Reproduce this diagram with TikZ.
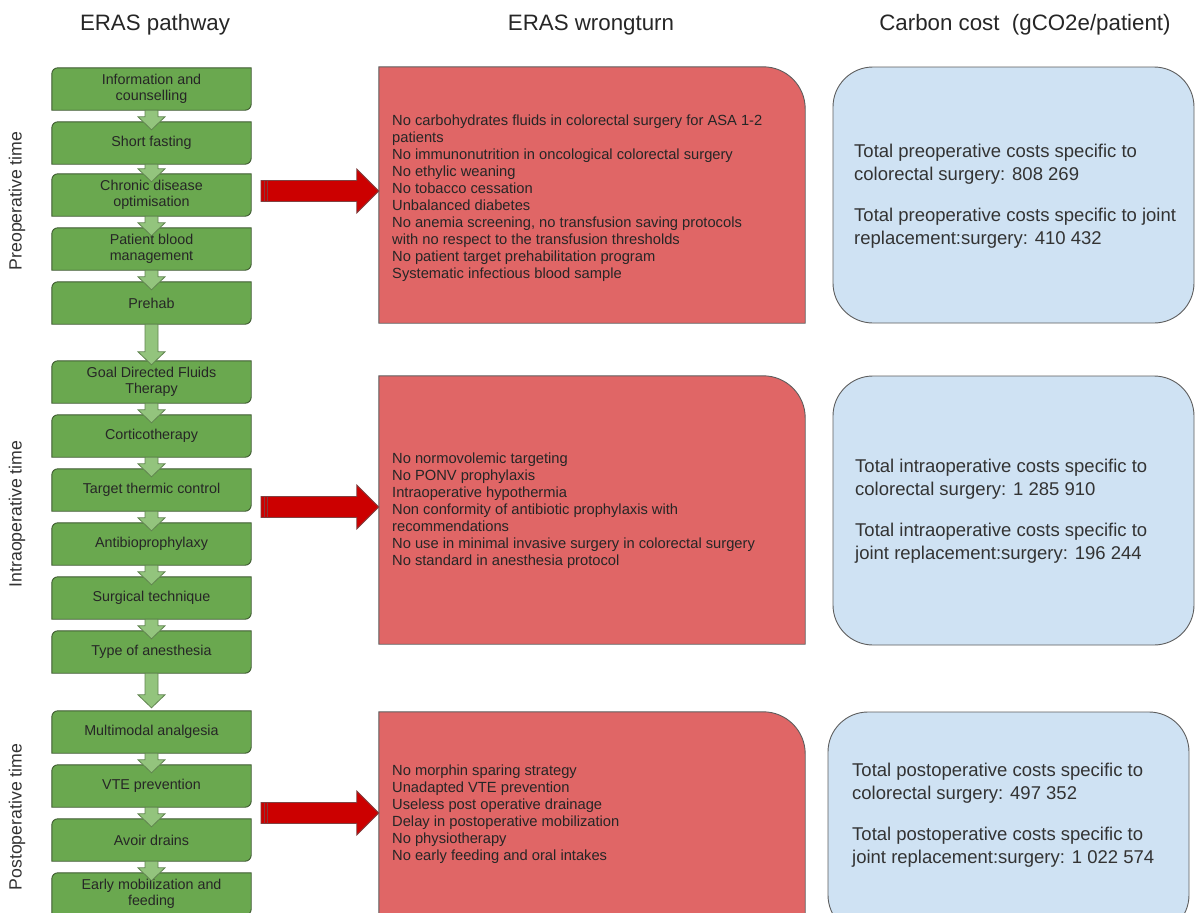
\documentclass[tikz,border=0pt]{standalone}
\usepackage{fontspec}
\setmainfont{Liberation Sans}
\usetikzlibrary{calc,backgrounds}

\definecolor{stepgreen}{HTML}{6AA84F}
\definecolor{steplight}{HTML}{93C47D}
\definecolor{stepedge}{HTML}{3E5A30}
\definecolor{wrongred}{HTML}{E06666}
\definecolor{arrowred}{HTML}{CC0000}
\definecolor{costblue}{HTML}{CFE2F3}
\definecolor{edgegray}{HTML}{5E5E5E}

% green step: rounded top left and bottom right corners
\newcommand{\stepframe}[1]{%
\begin{pgfonlayer}{background}
\filldraw[stepframe] ([yshift=-6pt]#1.north west) arc[start angle=180,end angle=90,radius=6pt] -- (#1.north east)
  -- ([yshift=6pt]#1.south east) arc[start angle=0,end angle=-90,radius=6pt] -- (#1.south west) -- cycle;
\end{pgfonlayer}}
% red box: only the top right corner is rounded
\newcommand{\wrongframe}[1]{%
\begin{pgfonlayer}{background}
\filldraw[wrongframe] (#1.south west) -- (#1.north west) -- ([xshift=-42pt]#1.north east)
  arc[start angle=90,end angle=0,radius=42pt] -- (#1.south east) -- cycle;
\end{pgfonlayer}}
% block arrow between two steps, #1 = how far the tip goes below the top of the lower step
\newcommand{\stepdown}[3][8]{%
\filldraw[stepdown] ($(#2.south)+(-6.5,0)$) -- ($(#3.north)+(-6.5,{#1-13})$) -- ($(#3.north)+(-13.5,{#1-13})$)
  -- ($(#3.north)+(0,#1)$) -- ($(#3.north)+(13.5,{#1-13})$) -- ($(#3.north)+(6.5,{#1-13})$) -- ($(#2.south)+(6.5,0)$) -- cycle;}
% striped red arrow from #1 to #2
\newcommand{\wrongarrow}[2]{%
\filldraw[wrongarrow] ($(#1)+(0,-10.5)$) -- ($(#2)+(-22,-10.5)$) -- ($(#2)+(-22,-22)$) -- (#2)
  -- ($(#2)+(-22,22)$) -- ($(#2)+(-22,10.5)$) -- ($(#1)+(0,10.5)$) -- cycle;
\draw[wrongstripe] ($(#1)+(3,-10.5)$) -- ($(#1)+(3,10.5)$) ($(#1)+(6.5,-10.5)$) -- ($(#1)+(6.5,10.5)$);}

\begin{document}
\begin{tikzpicture}[x=1pt,y=-1pt,
    header/.style={anchor=base,inner sep=0pt,text=black!85,font=\fontsize{22.3}{26}\selectfont},
    phase/.style={rotate=90,inner sep=0pt,text=black!80,font=\fontsize{17.7}{20}\selectfont},
    stepbox/.style={minimum width=199pt,minimum height=42pt,inner sep=0pt,align=center,text=black!85,font=\fontsize{14.3}{16}\selectfont},
    stepframe/.style={fill=stepgreen,draw=stepedge,line width=0.9pt},
    stepdown/.style={fill=steplight,draw=stepedge!60!steplight,line width=0.8pt},
    wrongbox/.style={minimum width=426pt,inner sep=0pt},
    wrongframe/.style={fill=wrongred,draw=edgegray,line width=0.9pt},
    wrongtext/.style={anchor=west,align=left,inner sep=0pt,text=black!85,font=\fontsize{14.7}{17}\selectfont},
    wrongarrow/.style={fill=arrowred,draw=edgegray!70!arrowred,line width=0.8pt},
    wrongstripe/.style={draw=edgegray!60!arrowred,line width=0.8pt},
    costbox/.style={fill=costblue,draw=edgegray,line width=0.9pt,rounded corners=40pt,minimum width=361pt,inner sep=0pt},
    costtext/.style={anchor=west,align=left,inner sep=0pt,text=black!80,font=\fontsize{18.5}{23}\selectfont}]
\begin{pgfonlayer}{background}
\fill[white] (0,0) rectangle (1195,913);
\end{pgfonlayer}
\useasboundingbox (0,0) rectangle (1195,913);

% column titles
\node[header] (h1) at (155,30) {ERAS pathway};
\node[header] (h2) at (591,30) {ERAS wrongturn};
\node[header] (h3) at (1025,30) {Carbon cost~ (gCO2e/patient)};

% phases, written upwards
\node[phase] (p1) at (17,201) {Preoperative time};
\node[phase] (p2) at (17,514) {Intraoperative time};
\node[phase] (p3) at (17,817) {Postoperative time};

% pathway, top to bottom
\node[stepbox] (g1) at (151.5,89) {Information and\\counselling}; \stepframe{g1}
\node[stepbox] (g2) at (151.5,143) {Short fasting}; \stepframe{g2}
\node[stepbox] (g3) at (151.5,195) {Chronic disease\\optimisation}; \stepframe{g3}
\node[stepbox] (g4) at (151.5,249) {Patient blood\\management}; \stepframe{g4}
\node[stepbox] (g5) at (151.5,303) {Prehab}; \stepframe{g5}
\node[stepbox] (g6) at (151.5,382) {Goal Directed Fluids\\Therapy}; \stepframe{g6}
\node[stepbox] (g7) at (151.5,436) {Corticotherapy}; \stepframe{g7}
\node[stepbox] (g8) at (151.5,490) {Target thermic control}; \stepframe{g8}
\node[stepbox] (g9) at (151.5,544) {Antibioprophylaxy}; \stepframe{g9}
\node[stepbox] (g10) at (151.5,598) {Surgical technique}; \stepframe{g10}
\node[stepbox] (g11) at (151.5,652) {Type of anesthesia}; \stepframe{g11}
\node[stepbox] (g12) at (151.5,732) {Multimodal analgesia}; \stepframe{g12}
\node[stepbox] (g13) at (151.5,786) {VTE prevention}; \stepframe{g13}
\node[stepbox] (g14) at (151.5,840) {Avoir drains}; \stepframe{g14}
\node[stepbox] (g15) at (151.5,894) {Early mobilization and\\feeding}; \stepframe{g15}

\stepdown{g1}{g2}
\stepdown{g2}{g3}
\stepdown{g3}{g4}
\stepdown{g4}{g5}
\stepdown[4]{g5}{g6}   % into the intraoperative time
\stepdown{g6}{g7}
\stepdown{g7}{g8}
\stepdown{g8}{g9}
\stepdown{g9}{g10}
\stepdown{g10}{g11}
\stepdown[-3]{g11}{g12}   % into the postoperative time
\stepdown{g12}{g13}
\stepdown{g13}{g14}
\stepdown{g14}{g15}

% wrongturns
\node[wrongbox,minimum height=256pt] (w1) at (592,195) {}; \wrongframe{w1}
\node[wrongbox,minimum height=268pt] (w2) at (592,510) {}; \wrongframe{w2}
\node[wrongbox,minimum height=230pt] (w3) at (592,827) {}; \wrongframe{w3}
\node[wrongtext] (w1t) at (392,198) {No carbohydrates fluids in colorectal surgery for ASA 1-2\\patients\\
  No immunonutrition in oncological colorectal surgery\\No ethylic weaning\\No tobacco cessation\\
  Unbalanced diabetes\\No anemia screening, no transfusion saving protocols\\
  with no respect to the transfusion thresholds\\No patient target prehabilitation program\\
  Systematic infectious blood sample};
\node[wrongtext] (w2t) at (392,511) {No normovolemic targeting\\No PONV prophylaxis\\Intraoperative hypothermia\\
  Non conformity of antibiotic prophylaxis with\\recommendations\\
  No use in minimal invasive surgery in colorectal surgery\\No standard in anesthesia protocol};
\node[wrongtext] (w3t) at (392,814.5) {No morphin sparing strategy\\Unadapted VTE prevention\\
  Useless post operative drainage\\Delay in postoperative mobilization\\No physiotherapy\\
  No early feeding and oral intakes};

\coordinate (a1) at (261,191);
\coordinate (a2) at (261,507);
\coordinate (a3) at (261,813);
\coordinate (t1) at (a1 -| w1.west);
\coordinate (t2) at (a2 -| w2.west);
\coordinate (t3) at (a3 -| w3.west);
\wrongarrow{a1}{t1}
\wrongarrow{a2}{t2}
\wrongarrow{a3}{t3}

% carbon costs
\node[costbox,minimum height=256pt] (c1) at (1013.5,195) {};
\node[costbox,minimum height=269pt] (c2) at (1013.5,510.5) {};
\node[costbox,minimum height=223pt] (c3) at (1008.5,823.5) {};
\node[costtext] (c1t) at (854,196.5) {Total preoperative costs specific to\\colorectal surgery: 808 269\\[18pt]
  Total preoperative costs specific to joint\\replacement:surgery: 410 432};
\node[costtext] (c2t) at (855,511.5) {Total intraoperative costs specific to\\colorectal surgery: 1 285 910\\[18pt]
  Total intraoperative costs specific to\\joint replacement:surgery: 196 244};
\node[costtext] (c3t) at (852,815) {Total postoperative costs specific to\\colorectal surgery: 497 352\\[18pt]
  Total postoperative costs specific to\\joint replacement:surgery: 1 022 574};
\end{tikzpicture}
\end{document}
